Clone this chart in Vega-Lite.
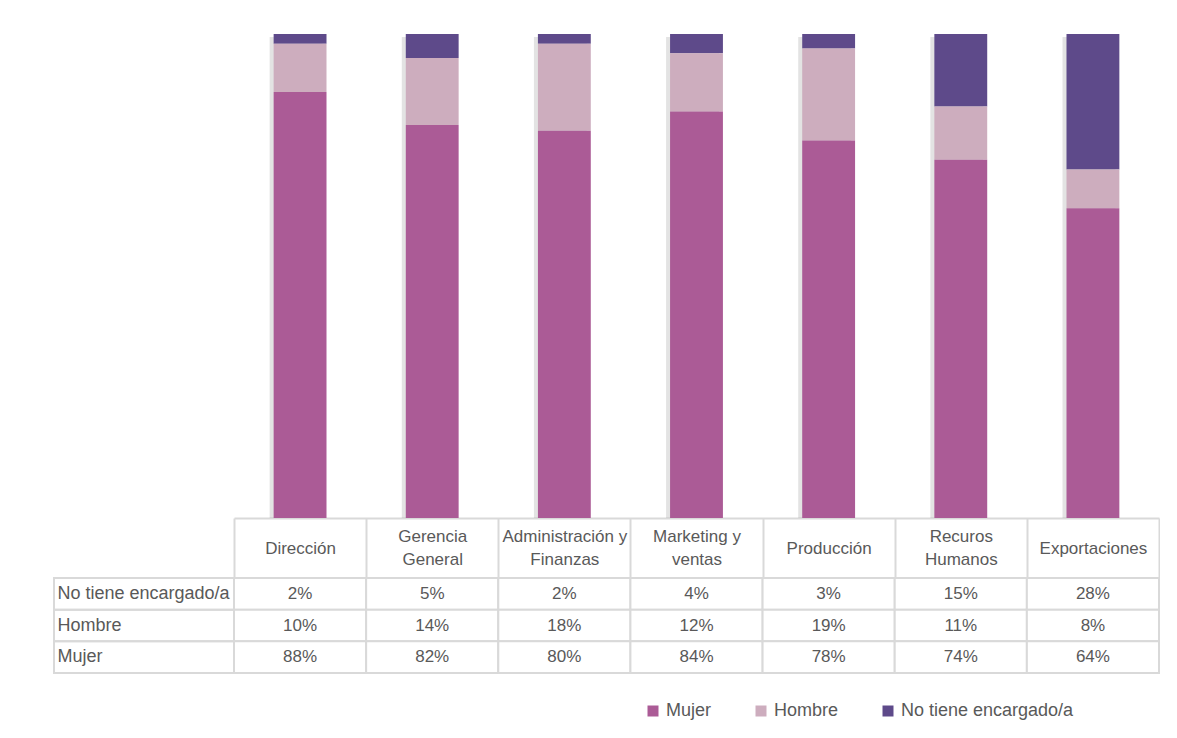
{
  "$schema": "https://vega.github.io/schema/vega-lite/v6.json",
  "background": "white",
  "padding": {"left": 53, "top": 34, "right": 0, "bottom": 0},
  "datasets": {
    "d": [
      {"area": "Dirección", "grupo": "No tiene encargado/a", "pct": 0.02},
      {"area": "Dirección", "grupo": "Hombre", "pct": 0.10},
      {"area": "Dirección", "grupo": "Mujer", "pct": 0.88},
      {"area": "Gerencia General", "grupo": "No tiene encargado/a", "pct": 0.05},
      {"area": "Gerencia General", "grupo": "Hombre", "pct": 0.14},
      {"area": "Gerencia General", "grupo": "Mujer", "pct": 0.82},
      {"area": "Administración y Finanzas", "grupo": "No tiene encargado/a", "pct": 0.02},
      {"area": "Administración y Finanzas", "grupo": "Hombre", "pct": 0.18},
      {"area": "Administración y Finanzas", "grupo": "Mujer", "pct": 0.80},
      {"area": "Marketing y ventas", "grupo": "No tiene encargado/a", "pct": 0.04},
      {"area": "Marketing y ventas", "grupo": "Hombre", "pct": 0.12},
      {"area": "Marketing y ventas", "grupo": "Mujer", "pct": 0.84},
      {"area": "Producción", "grupo": "No tiene encargado/a", "pct": 0.03},
      {"area": "Producción", "grupo": "Hombre", "pct": 0.19},
      {"area": "Producción", "grupo": "Mujer", "pct": 0.78},
      {"area": "Recuros Humanos", "grupo": "No tiene encargado/a", "pct": 0.15},
      {"area": "Recuros Humanos", "grupo": "Hombre", "pct": 0.11},
      {"area": "Recuros Humanos", "grupo": "Mujer", "pct": 0.74},
      {"area": "Exportaciones", "grupo": "No tiene encargado/a", "pct": 0.28},
      {"area": "Exportaciones", "grupo": "Hombre", "pct": 0.08},
      {"area": "Exportaciones", "grupo": "Mujer", "pct": 0.64}
    ]
  },
  "columns": 2,
  "spacing": {"row": 60, "column": 0},
  "bounds": "flush",
  "resolve": {"scale": {"x": "independent", "y": "independent"}},
  "concat": [
    {
      "width": 180,
      "height": 484,
      "data": {"values": [{}]},
      "mark": {"type": "text", "text": ""}
    },
    {
      "width": 925,
      "height": 484,
      "data": {"name": "d"},
      "encoding": {
        "x": {
          "field": "area",
          "type": "nominal",
          "sort": null,
          "scale": {"paddingInner": 0, "paddingOuter": 0},
          "axis": {
            "title": null,
            "orient": "bottom",
            "labelAngle": 0,
            "tickBand": "extent",
            "tickSize": 60,
            "tickColor": "#d9d9d9",
            "tickWidth": 2,
            "domainColor": "#d9d9d9",
            "domainWidth": 2,
            "labelPadding": {
              "condition": {"test": "datum.value == 'Dirección' || datum.value == 'Producción' || datum.value == 'Exportaciones'", "value": -30},
              "value": -42
            },
            "labelBaseline": "middle",
            "labelFontSize": 17,
            "labelColor": "#595959",
            "labelLineHeight": 23,
            "labelLimit": 300,
            "labelExpr": "datum.label == 'Gerencia General' ? ['Gerencia', 'General'] : datum.label == 'Administración y Finanzas' ? ['Administración y', 'Finanzas'] : datum.label == 'Marketing y ventas' ? ['Marketing y', 'ventas'] : datum.label == 'Recuros Humanos' ? ['Recuros', 'Humanos'] : datum.label"
          }
        }
      },
      "layer": [
        {
          "transform": [{"aggregate": [{"op": "count", "as": "n"}], "groupby": ["area"]}],
          "mark": {"type": "bar", "width": {"band": 0.4}, "color": "#808080", "opacity": 0.22, "xOffset": -4, "yOffset": 3},
          "encoding": {
            "y": {"datum": 1, "type": "quantitative", "axis": null}
          }
        },
        {
          "transform": [{"calculate": "indexof(['Mujer', 'Hombre', 'No tiene encargado/a'], datum.grupo)", "as": "orden"}],
          "mark": {"type": "bar", "width": {"band": 0.4}},
          "encoding": {
            "y": {"field": "pct", "type": "quantitative", "stack": "normalize", "axis": null},
            "order": {"field": "orden", "type": "quantitative", "sort": "ascending"},
            "color": {
              "field": "grupo",
              "type": "nominal",
              "sort": ["Mujer", "Hombre", "No tiene encargado/a"],
              "scale": {
                "domain": ["Mujer", "Hombre", "No tiene encargado/a"],
                "range": ["#AB5B96", "#CDADBE", "#5E4A8A"]
              },
              "legend": {
                "title": null,
                "orient": "none",
                "direction": "horizontal",
                "legendX": 590,
                "legendY": 668,
                "padding": 0,
                "symbolType": "square",
                "symbolSize": 121,
                "symbolStrokeWidth": 0,
                "symbolOpacity": 1,
                "labelFontSize": 18,
                "labelColor": "#595959",
                "labelOffset": 4,
                "labelLimit": 400,
                "columnPadding": 40
              }
            }
          }
        }
      ]
    },
    {
      "width": 180,
      "height": 95,
      "data": {"name": "d"},
      "transform": [{"filter": "datum.area == 'Dirección'"}],
      "mark": {"type": "rect", "fill": "white", "fillOpacity": 0, "stroke": "#d9d9d9", "strokeWidth": 2},
      "encoding": {
        "y": {
          "field": "grupo",
          "type": "nominal",
          "sort": ["No tiene encargado/a", "Hombre", "Mujer"],
          "scale": {"paddingInner": 0, "paddingOuter": 0},
          "axis": {
            "title": null,
            "orient": "left",
            "ticks": false,
            "tickSize": 0,
            "domain": false,
            "labelAlign": "left",
            "labelBaseline": "middle",
            "labelPadding": -3,
            "labelFontSize": 18,
            "labelColor": "#595959",
            "labelLimit": 200,
            "zindex": 1
          }
        }
      }
    },
    {
      "width": 925,
      "height": 95,
      "data": {"name": "d"},
      "encoding": {
        "x": {"field": "area", "type": "nominal", "sort": null, "axis": null, "scale": {"paddingInner": 0, "paddingOuter": 0}},
        "y": {"field": "grupo", "type": "nominal", "sort": ["No tiene encargado/a", "Hombre", "Mujer"], "axis": null, "scale": {"paddingInner": 0, "paddingOuter": 0}}
      },
      "layer": [
        {"mark": {"type": "rect", "fill": "white", "stroke": "#d9d9d9", "strokeWidth": 2}},
        {
          "mark": {"type": "text", "fontSize": 17, "color": "#595959", "baseline": "middle", "align": "center"},
          "encoding": {"text": {"field": "pct", "type": "quantitative", "format": ".0%"}}
        }
      ]
    }
  ],
  "config": {
    "font": "Liberation Sans, Arial, sans-serif",
    "view": {"stroke": null}
  }
}
